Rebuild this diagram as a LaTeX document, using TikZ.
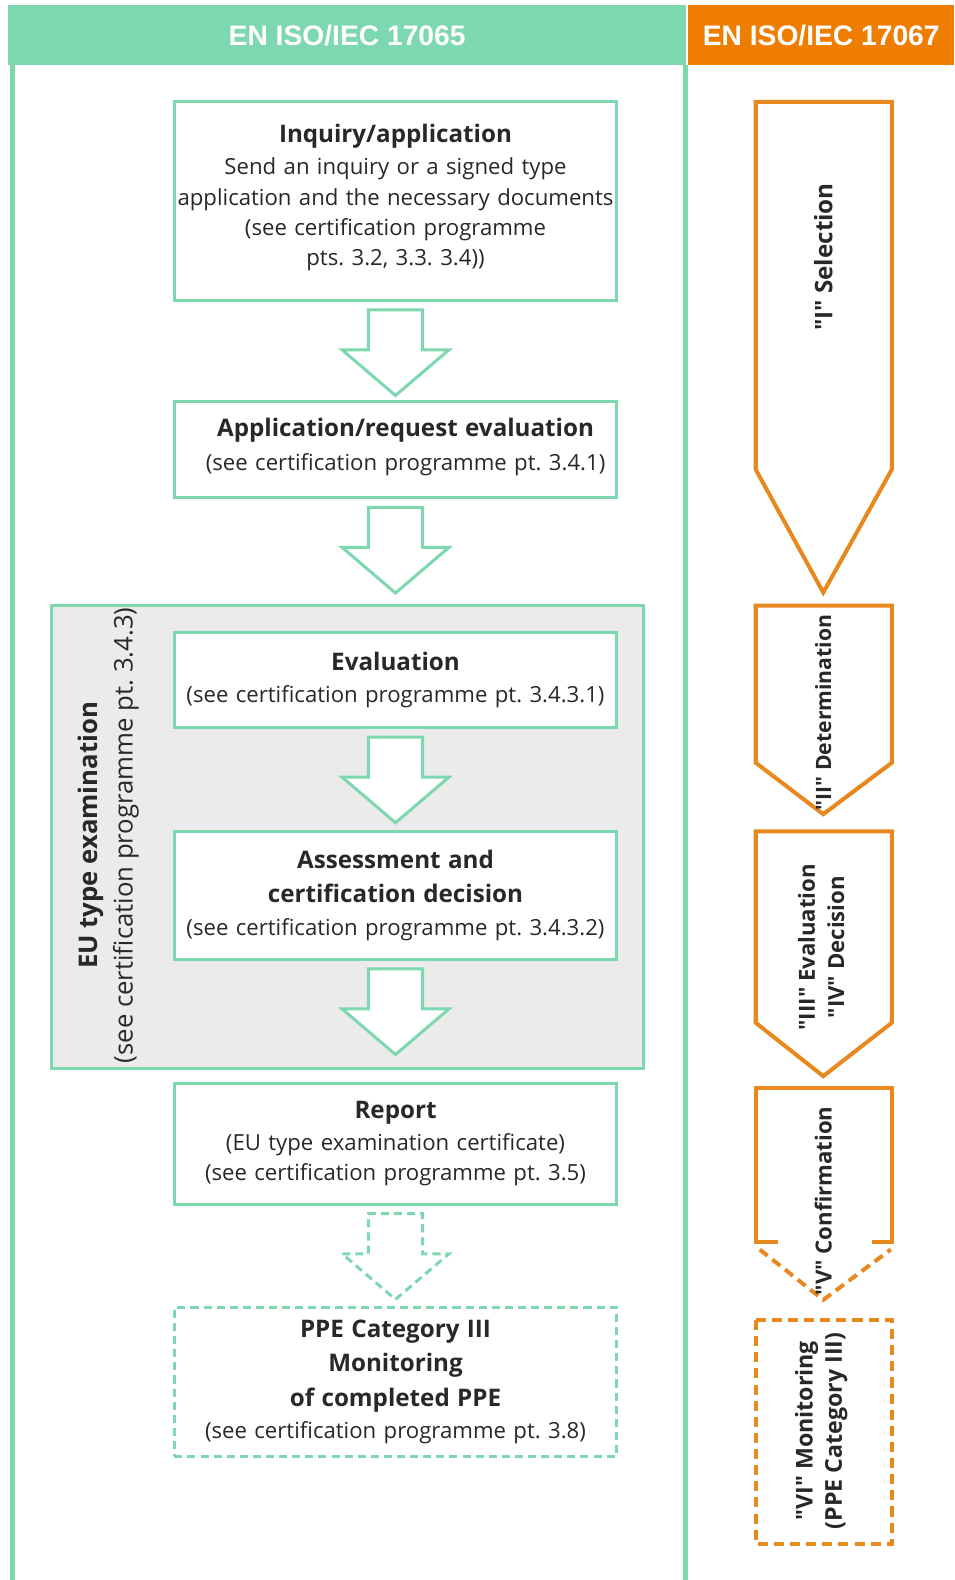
\documentclass[tikz,border=0pt]{standalone}
\usepackage{fontspec}
\setmainfont{Open Sans}[Ligatures=TeXOff]
\newfontfamily\headfont{Liberation Sans}
\usepackage{tikz}
\usetikzlibrary{positioning,shapes.arrows,calc}
\definecolor{mint}{RGB}{125,216,176}
\definecolor{headorange}{RGB}{238,125,0}
\definecolor{lineorange}{RGB}{232,137,32}
\definecolor{boxgray}{RGB}{235,235,235}
\definecolor{ink}{RGB}{40,40,40}
\newcommand{\boxtitle}[1]{{\fontsize{24}{33}\selectfont\bfseries #1}}
\frenchspacing

\begin{document}
\begin{tikzpicture}[x=1pt, y=-1pt,
		stepbox/.style={draw=mint, line width=3pt, fill=white, rectangle, minimum width=439pt, text width=436pt, align=center, inner sep=0pt, outer sep=0pt, text=ink, font=\fontsize{22}{30}\selectfont},
		flowarrow/.style={draw=mint, line width=3pt, fill=white, single arrow, rotate=-90, anchor=tail, single arrow tip angle=99, single arrow head extend=26pt, inner xsep=0pt, inner ysep=25.5pt, minimum height=85pt},
		headbox/.style={minimum height=60pt, inner sep=0pt, text=white, font=\headfont\fontsize{28}{32}\selectfont\bfseries},
		sidetext/.style={rotate=90, align=center, text=ink, font=\fontsize{22}{29}\selectfont\bfseries},
		sideline/.style={draw=lineorange, line width=4pt}]
		\useasboundingbox (0,0) rectangle (947,1568);
		
		% Draw the two headers
		\node (head1) [headbox, fill=mint, minimum width=673pt] at (344.5,35) {EN ISO/IEC 17065};
		\node (head2) [headbox, fill=headorange, minimum width=264pt] at (815,35) {EN ISO/IEC 17067};
		
		% Draw the frame of the left column
		\draw[mint, line width=5pt] (12,65) -- (12,1570);
		\draw[mint, line width=5pt] (680,65) -- (680,1570);
		
		% Draw the grey block of the EU type examination
		\node (eubox) [draw=mint, line width=3pt, fill=boxgray, minimum width=588pt, minimum height=459pt] at (345,830.5) {};
		\node (eulabel) [rotate=90, align=center, text=ink, font=\fontsize{25.5}{35}\selectfont] at (107.5,829) {\textbf{EU type examination}\\(see certification programme pt. 3.4.3)};
		
		% Draw the first block
		\node (inquiry) [stepbox, minimum height=197pt] at (392.5,199.5) {\boxtitle{Inquiry/application}\\[2pt]Send an inquiry or a signed type\\application and the necessary documents\\(see certification programme\\pts. 3.2, 3.3. 3.4))\\[-18pt]\mbox{}};
		
		% Draw the second block below the first one
		\node (appeval) [stepbox, minimum height=96pt, below=100pt of inquiry] {\hspace*{20pt}\boxtitle{Application/request evaluation}\\[3pt]\hspace*{20pt}(see certification programme pt. 3.4.1)\\[-20pt]\mbox{}};
		
		% Draw the blocks inside the grey block
		\node (evaluation) [stepbox, minimum height=94pt, below=134pt of appeval] {\boxtitle{Evaluation}\\[2pt](see certification programme pt. 3.4.3.1)};
		\node (assessment) [stepbox, minimum height=127pt, below=103pt of evaluation] {\boxtitle{Assessment and}\\[4pt]\boxtitle{certification decision}\\[2pt](see certification programme pt. 3.4.3.2)};
		
		% Draw the report block
		\node (report) [stepbox, minimum height=120pt, below=123pt of assessment] {\boxtitle{Report}\\[2pt](EU type examination certificate)\\(see certification programme pt. 3.5)};
		
		% Draw the dashed monitoring block
		\node (ppe) [stepbox, dash pattern=on 8pt off 5pt, minimum height=147pt, below=103pt of report] {\boxtitle{PPE Category III}\\[4pt]\boxtitle{Monitoring}\\[4pt]\boxtitle{of completed PPE}\\[2pt](see certification programme pt. 3.8)};
		
		% Connect the blocks with arrows
		\node (arr1) [flowarrow] at ($(inquiry.south)+(0,8)$) {};
		\node (arr2) [flowarrow] at ($(appeval.south)+(0,8)$) {};
		\node (arr3) [flowarrow] at ($(evaluation.south)+(0,8)$) {};
		\node (arr4) [flowarrow] at ($(assessment.south)+(0,8)$) {};
		\node (arr5) [flowarrow, dash pattern=on 8pt off 5pt] at ($(report.south)+(0,8)$) {};
		
		% Draw the stages of EN ISO/IEC 17067
		\draw[sideline] (750,101) -- (885,101) -- (885,466) -- (817,588) -- (750,466) -- cycle;
		\node (selection) [sidetext, font=\fontsize{24}{30}\selectfont\bfseries] at (817,255) {"I" Selection};
		
		\draw[sideline] (750,601) -- (885,601) -- (885,757) -- (817,808) -- (750,757) -- cycle;
		\node (determination) [sidetext, font=\fontsize{21}{28}\selectfont\bfseries] at (817,707) {"II" Determination};
		
		\draw[sideline] (750,825) -- (885,825) -- (885,1015) -- (817,1068) -- (750,1015) -- cycle;
		\node (decision) [sidetext] at (815,940) {"III" Evaluation\\"IV" Decision};
		
		\draw[sideline] (772,1233) -- (750,1233) -- (750,1080) -- (885,1080) -- (885,1233) -- (865,1233);
		\draw[sideline, dash pattern=on 10pt off 6pt] (754,1240) -- (817,1290) -- (884,1240);
		\node (confirmation) [sidetext] at (817,1192) {"V" Confirmation};
		
		\draw[sideline, dash pattern=on 10pt off 6pt] (750,1310) rectangle (885,1532);
		\node (monitoring) [sidetext, font=\fontsize{23}{29}\selectfont\bfseries] at (815,1420) {"VI" Monitoring\\(PPE Category III)};
	\end{tikzpicture}
\end{document}
